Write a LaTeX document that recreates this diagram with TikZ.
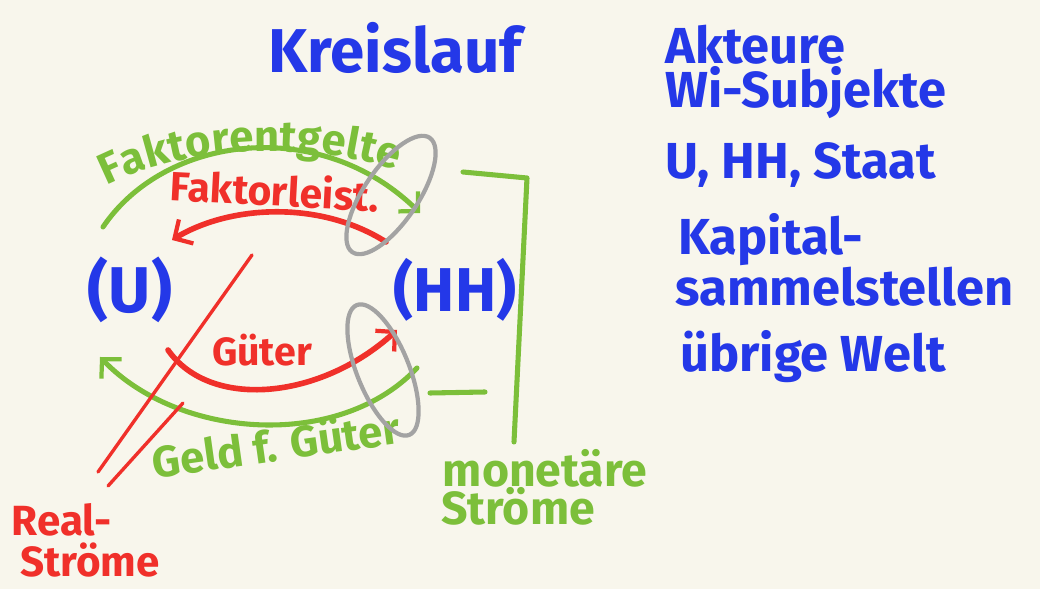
\documentclass[tikz,border=0pt]{standalone}
\usepackage{fontspec}
\setmainfont{Fira Sans}
\usetikzlibrary{arrows.meta,shapes.geometric,decorations.text}
\definecolor{bg}{HTML}{F8F6EC}
\definecolor{hblue}{HTML}{2438E8}
\definecolor{hred}{HTML}{F0302A}
\definecolor{hgreen}{HTML}{7CBF3A}
\definecolor{hgray}{HTML}{A3A3A3}
\begin{document}
\begin{tikzpicture}[x=0.025cm,y=-0.025cm,
  txt/.style={font=\bfseries\fontsize{#1}{#1}\selectfont, inner sep=0pt},
  bluetxt/.style={txt=#1, text=hblue},
  redtxt/.style={txt=#1, text=hred},
  greentxt/.style={txt=#1, text=hgreen},
  barb/.style={-{Straight Barb[length=3.4mm,width=7mm,line width=3pt]}},
  redline/.style={draw=hred, line width=4pt, line cap=round, line join=round},
  greenline/.style={draw=hgreen, line width=3.6pt, line cap=round, line join=round},
  thinred/.style={draw=hred, line width=2.4pt, line cap=round},
  loop/.style={draw=hgray, line width=3pt, ellipse, inner sep=0pt}]
\fill[bg] (0,0) rectangle (1040,589);
\useasboundingbox (0,0) rectangle (1040,589);

% title and list
\node[bluetxt=44] (title) at (395,48) {Kreislauf};
\node[bluetxt=36, anchor=west] (a1) at (665,45) {Akteure};
\node[bluetxt=36, anchor=west] (a2) at (665,93) {Wi-Subjekte};
\node[bluetxt=36, anchor=west] (a3) at (665,165) {U, HH, Staat};
\node[bluetxt=36, anchor=west] (a4) at (678,240) {Kapital-};
\node[bluetxt=36, anchor=west] (a5) at (675,287) {sammelstellen};
\node[bluetxt=36, anchor=west] (a6) at (680,357) {übrige Welt};

% actors
\node[bluetxt=46] (U) at (130,290) {(U)};
\node[bluetxt=44] (HH) at (455,290) {(HH)};

% flow end points
\coordinate (fe1) at (103,227);
\coordinate (fe2) at (420,213);
\coordinate (fl1) at (386,242);
\coordinate (fl2) at (172,240);
\coordinate (g1) at (168,350);
\coordinate (g2) at (397,330);
\coordinate (gg1) at (417,368);
\coordinate (gg2) at (100,357);

% flows
\draw[greenline, barb] (fe1) .. controls (165,135) and (320,115) .. (fe2);
\draw[redline, barb] (fl1) .. controls (320,200) and (230,205) .. (fl2);
\draw[redline, barb] (g1) .. controls (210,410) and (320,400) .. (g2);
\draw[greenline, barb] (gg1) .. controls (340,450) and (180,440) .. (gg2);

% labels on flows
\path[decorate, decoration={text along path, text align=center,
  text={|\bfseries\fontsize{31}{31}\selectfont\color{hgreen}|Faktorentgelte}}]
  (85,198) .. controls (165,145) and (310,135) .. (420,178);
\node[redtxt=29, rotate=-3] (fll) at (275,190) {Faktorleist.};
\node[redtxt=28] (gl) at (262,350) {Güter};
\node[greentxt=31, rotate=8] (ggl) at (276,444) {Geld f. Güter};

% grey loops
\node[loop, minimum width=3.45cm, minimum height=1.35cm, rotate=56] (o1) at (391,195) {};
\node[loop, minimum width=3.5cm, minimum height=1.3cm, rotate=-68] (o2) at (383,370) {};

% monetary bracket
\coordinate (m1) at (463,172);
\coordinate (m2) at (527,178);
\coordinate (m3) at (514,442);
\coordinate (m4) at (430,393);
\coordinate (m5) at (485,392);
\draw[greenline] (m1) -- (m2) -- (m3);
\draw[greenline] (m4) -- (m5);
\node[greentxt=33] (mon) at (545,468) {monetäre};
\node[greentxt=33] (mons) at (518,506) {Ströme};

% real flows pointer
\coordinate (r1) at (252,255);
\coordinate (r2) at (98,472);
\coordinate (r3) at (183,403);
\coordinate (r4) at (108,486);
\draw[thinred] (r1) -- (r2);
\draw[thinred] (r3) -- (r4);
\node[redtxt=30] (real) at (62,520) {Real-};
\node[redtxt=30] (reals) at (90,560) {Ströme};
\end{tikzpicture}
\end{document}
